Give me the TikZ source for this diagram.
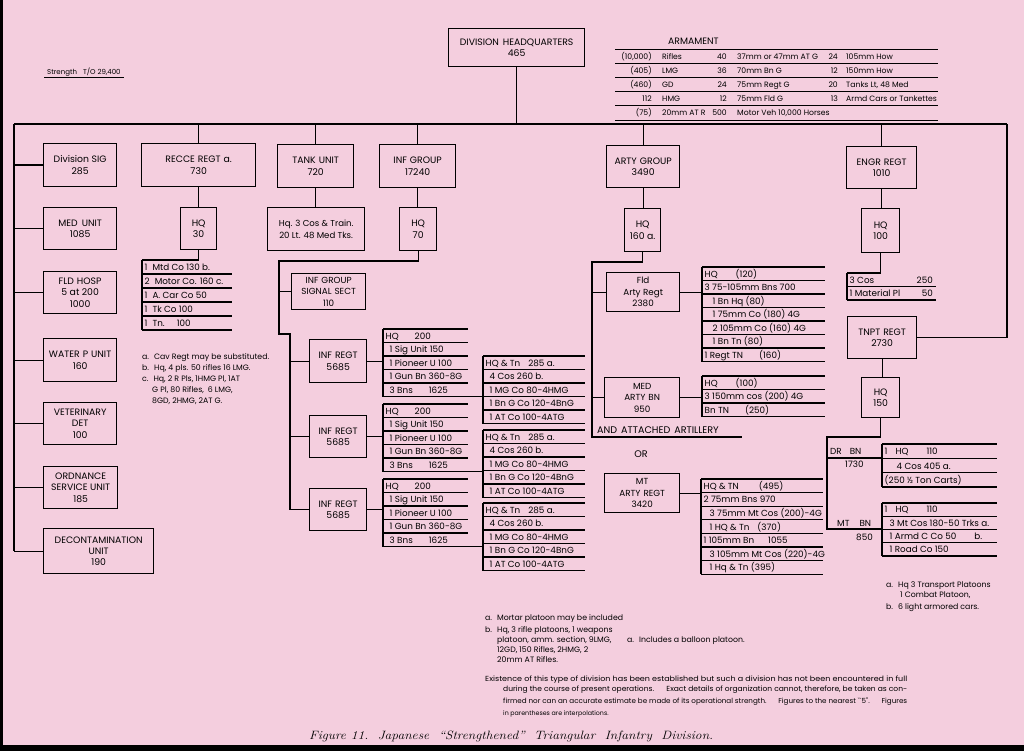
\documentclass[tikz,border=0pt]{standalone}
\usepackage{fontspec}
\usepackage{graphicx}
\newfontfamily\lsans{Poppins}
\definecolor{bgpink}{RGB}{244,206,222}
\tikzset{
  ln/.style={line width=1.3pt, line join=miter},
  box/.style={draw, line width=1.3pt, align=center, inner sep=0pt, anchor=north west,
    font=\lsans\fontsize{9.3}{11.4}\selectfont},
  tt/.style={font=\lsans\fontsize{8.8}{9}\selectfont, inner sep=0pt, anchor=base west},
  armtext/.style={font=\lsans\fontsize{7.7}{9}\selectfont, inner sep=0pt, anchor=base west},
  fn/.style={font=\lsans\fontsize{7.8}{8}\selectfont, inner sep=0pt, anchor=base west},
  pa/.style={font=\lsans\fontsize{6.3}{7}\selectfont, inner sep=0pt, anchor=base west},
}
\newcommand\fitline[2]{\resizebox{#1}{5.6pt}{#2}}
% #1 name, #2 x1, #3 y1, #4 x2, #5 y2, #6 text
\newcommand\ubox[6]{\node[box, minimum width={#4-#2}, minimum height={#5-#3}] (#1) at (#2,#3) {#6};}
% #1 name #2 x #3 ytop #4 width #5 toplen #6 rowh #7 nrows #8 list
\newcommand\rtab[8]{%
  \coordinate (#1) at (#2,#3);
  \coordinate (#1br) at ({#2+#4},{#3+#6*#7});
  \draw[ln] (#2,#3) -- ++(#5,0);
  \draw[ln] (#2,#3) -- ++(0,{#6*#7});
  \foreach \rowtext [count=\k] in {#8} {
    \draw[ln] (#2,{#3+\k*#6}) -- ++(#4,0);
    \node[tt] (#1r\k) at ({#2+2.5},{#3+\k*#6-3.4}) {\rowtext};
  }
}
\begin{document}
\begin{tikzpicture}[x=1pt,y=-1pt]
\useasboundingbox (0,0) rectangle (1024,751);
\fill[bgpink] (0,0) rectangle (1024,751);
\fill[black] (0,0) rectangle (3,751);
\fill[black] (0,745) rectangle (1024,751);

% ---------- headquarters and strength
\ubox{hq}{448}{28}{584}{66}{DIVISION\hspace{4pt}HEADQUARTERS\\465}
\node[fn, font=\lsans\fontsize{7}{8}\selectfont] (str) at (47,75) {Strength\hspace{6pt}T/O 29,400};
\draw[line width=0.8pt] ([yshift=-2.5pt,xshift=-3pt]str.base west) -- ([yshift=-2.5pt,xshift=3pt]str.base east);

% ---------- armament
\node[armtext, font=\lsans\fontsize{9.3}{9}\selectfont] (armt) at (668,45) {ARMAMENT};
\foreach \y in {50,64,78,92,106,121} \draw[line width=1pt] (615,\y) -- (938,\y);
\foreach \a/\b/\c/\d/\e/\f [count=\k] in {
  {(10,000)}/Rifles/40/{37mm or 47mm AT G}/24/{105mm How},
  {(405)}/LMG/36/{70mm Bn G}/12/{150mm How},
  {(460)}/GD/24/{75mm Regt G}/20/{Tanks Lt, 48 Med},
  {112}/HMG/12/{75mm Fld G}/13/{Armd Cars or Tankettes},
  {(75)}/{20mm AT R}/500/{Motor Veh 10,000 Horses}/{}/{}} {
  \pgfmathsetmacro\yy{46+\k*14}
  \node[armtext, anchor=base east] (ara\k) at (652,\yy) {\a};
  \node[armtext] (arb\k) at (662,\yy) {\b};
  \node[armtext, anchor=base east] (arc\k) at (727,\yy) {\c};
  \node[armtext] (ard\k) at (737,\yy) {\d};
  \node[armtext, anchor=base east] (are\k) at (838,\yy) {\e};
  \node[armtext] (arf\k) at (846,\yy) {\f};
}

% ---------- bus
\coordinate (busL) at (14,124);
\coordinate (busR) at (1007,124);
\draw[ln] (busL) -- (busR);
\draw[ln] (hq.south) -- (hq.south |- busL);

% ---------- left column
\ubox{sig}{43}{143}{116}{186}{Division SIG\\285}
\ubox{med}{43}{207}{116}{249}{MED\hspace{4pt}UNIT\\1085}
\ubox{hosp}{43}{271}{116}{313}{FLD\hspace{3pt}HOSP\\5 at 200\\1000}
\ubox{water}{43}{338}{116}{381}{WATER\hspace{3pt}P\hspace{3pt}UNIT\\160}
\ubox{vet}{43}{402}{116}{444}{VETERINARY\\DET\\100}
\ubox{ord}{43}{466}{117}{508}{ORDNANCE\\SERVICE UNIT\\185}
\ubox{decon}{43}{528}{153}{573}{DECONTAMINATION\\UNIT\\190}
\draw[ln] (busL) -- (busL |- decon.west);
\foreach \n in {sig,med,hosp,water,vet,ord,decon} \draw[ln] (\n.west) -- (\n.west -| busL);

% ---------- recce
\ubox{recce}{141}{143}{255}{186}{RECCE\hspace{3pt}REGT\hspace{3pt}a.\\730}
\ubox{recchq}{180}{207}{216}{249}{HQ\\30}
\draw[ln] (recce.north) -- (recce.north |- busL);
\draw[ln] (recce.south) -- (recchq.north);
\rtab{rtr}{142}{260}{90}{0}{14}{5}{{1\hspace{5pt}Mtd Co 130 b.},{2\hspace{5pt}Motor Co. 160 c.},{1\hspace{5pt}A. Car Co 50},{1\hspace{5pt}Tk Co 100},{1\hspace{5pt}Tn.\hspace{12pt}100}}
\draw[ln] (recchq.south) |- (rtr);
\node[fn] (rfa) at (142,359) {a.\hspace{5pt}Cav Regt may be substituted.};
\node[fn] (rfb) at (142,370) {b.\hspace{5pt}Hq, 4 pls. 50 rifles 16 LMG.};
\node[fn] (rfc) at (142,381) {c.\hspace{5pt}Hq, 2 R Pls, 1HMG Pl, 1AT};
\node[fn] (rfc2) at (152,392) {G Pl, 80 Rifles,\hspace{4pt}6 LMG,};
\node[fn] (rfc3) at (152,403) {8GD, 2HMG, 2AT G.};

% ---------- tank
\ubox{tank}{277}{144}{353}{187}{TANK\hspace{3pt}UNIT\\720}
\ubox{tanksub}{267}{207}{364}{250}{\fontsize{8.6}{11.4}\selectfont Hq. 3 Cos \& Train.\\\fontsize{8.6}{11.4}\selectfont 20 Lt. 48 Med Tks.}
\draw[ln] (tank.north) -- (tank.north |- busL);
\draw[ln] (tank.south) -- (tank.south |- tanksub.north);

% ---------- infantry group
\ubox{infg}{379}{144}{455}{187}{INF\hspace{3pt}GROUP\\17240}
\ubox{infhq}{399}{207}{436}{250}{HQ\\70}
\draw[ln] (infg.north) -- (infg.north |- busL);
\draw[ln] (infg.south) -- (infg.south |- infhq.north);
\ubox{sigsect}{291}{273}{365}{309}{\fontsize{8.8}{10.6}\selectfont INF\hspace{3pt}GROUP\\\fontsize{8.8}{10.6}\selectfont SIGNAL\hspace{3pt}SECT\\\fontsize{8.8}{10.6}\selectfont 110}
\ubox{reg1}{309}{339}{366}{382}{INF\hspace{3pt}REGT\\5685}
\ubox{reg2}{309}{415}{366}{457}{INF\hspace{3pt}REGT\\5685}
\ubox{reg3}{309}{488}{366}{530}{INF\hspace{3pt}REGT\\5685}
\coordinate (ig1) at (279,261);
\coordinate (ig2) at (279,334);
\coordinate (ig3) at (290,334);
\draw[ln] (infhq.south) |- (ig1) -- (ig2) -- (ig3) -- (ig3 |- reg3.west) -- (reg3.west);
\draw[ln] (sigsect.west) -- (sigsect.west -| ig1);
\draw[ln] (reg1.west) -- (reg1.west -| ig3);
\draw[ln] (reg2.west) -- (reg2.west -| ig3);
\foreach \ii/\ta/\tb in {1/329/356, 2/404/430, 3/479/503} {
  \rtab{rt\ii}{383}{\ta}{85}{85}{13.5}{5}{{HQ\hspace{16pt}200},{\hspace{4pt}1 Sig Unit 150},{\hspace{4pt}1 Pioneer U 100},{\hspace{4pt}1 Gun Bn 360-8G},{\hspace{4pt}3 Bns\hspace{16pt}1625}}
  \rtab{bn\ii}{483}{\tb}{102}{102}{13.5}{5}{{HQ \& Tn\hspace{8pt}285 a.},{\hspace{4pt}4 Cos 260 b.},{\hspace{4pt}1 MG Co 80-4HMG},{\hspace{4pt}1 Bn G Co 120-4BnG},{\hspace{4pt}1 AT Co 100-4ATG}}
  \draw[ln] (reg\ii.east) -- (reg\ii.east -| rt\ii);
  \draw[ln] (rt\ii br) -- (rt\ii br -| bn\ii);
}
\node[fn] (ifa) at (485,620) {a.\hspace{5pt}Mortar platoon may be included};
\node[fn] (ifb) at (485,632) {b.\hspace{5pt}Hq, 3 rifle platoons, 1 weapons};
\node[fn] (ifb2) at (497,642) {platoon, amm. section, 9LMG,};
\node[fn] (afa) at (627,642) {a.\hspace{5pt}Includes a balloon platoon.};
\node[fn] (ifb3) at (497,652) {12GD, 150 Rifles, 2HMG, 2};
\node[fn] (ifb4) at (497,662) {20mm AT Rifles.};

% ---------- artillery group
\ubox{arty}{606}{145}{679}{187}{ARTY\hspace{3pt}GROUP\\3490}
\ubox{artyhq}{624}{208}{660}{251}{HQ\\160 a.}
\draw[ln] (arty.north) -- (arty.north |- busL);
\draw[ln] (arty.south) -- (arty.south |- artyhq.north);
\ubox{fld}{606}{272}{679}{311}{\fontsize{8.8}{10.6}\selectfont Fld\\\fontsize{8.8}{10.6}\selectfont Arty Regt\\\fontsize{8.8}{10.6}\selectfont 2380}
\ubox{medarty}{604}{377}{679}{417}{\fontsize{8.8}{10.6}\selectfont MED\\\fontsize{8.8}{10.6}\selectfont ARTY\hspace{3pt}BN\\\fontsize{8.8}{10.6}\selectfont 950}
\ubox{mtarty}{604}{473}{679}{512}{\fontsize{8.8}{10.6}\selectfont MT\\\fontsize{8.8}{10.6}\selectfont ARTY\hspace{3pt}REGT\\\fontsize{8.8}{10.6}\selectfont 3420}
\coordinate (a1) at (592,262);
\coordinate (a2) at (592,437);
\coordinate (a3) at (742,437);
\draw[ln] (artyhq.south) |- (a1) -- (a2) -- (a3);
\draw[ln] (fld.west) -- (fld.west -| a1);
\draw[ln] (medarty.west) -- (medarty.west -| a1);
\node[fn, font=\lsans\fontsize{9.6}{9}\selectfont] (att) at (597,433.5) {AND\hspace{4pt}ATTACHED\hspace{4pt}ARTILLERY};
\node[fn, font=\lsans\fontsize{9.6}{9}\selectfont, anchor=base] (or) at (641,457) {OR};
\rtab{ft}{702}{267}{123}{123}{13.5}{7}{{HQ\hspace{18pt}(120)},{3 75-105mm Bns 700},{\hspace{8pt}1 Bn Hq (80)},{\hspace{8pt}1 75mm Co (180) 4G},{\hspace{8pt}2 105mm Co (160) 4G},{\hspace{8pt}1 Bn Tn (80)},{1 Regt TN\hspace{16pt}(160)}}
\rtab{mt}{702}{376}{123}{123}{13.5}{3}{{HQ\hspace{18pt}(100)},{3 150mm cos (200) 4G},{Bn TN\hspace{16pt}(250)}}
\rtab{mrt}{701}{479}{122}{122}{13.6}{7}{{HQ \& TN\hspace{20pt}(495)},{2 75mm Bns 970},{\hspace{6pt}3 75mm Mt Cos (200)-4G},{\hspace{6pt}1 HQ \& Tn\hspace{8pt}(370)},{1 105mm Bn\hspace{14pt}1055},{\hspace{6pt}3 105mm Mt Cos (220)-4G},{\hspace{6pt}1 Hq \& Tn (395)}}
\draw[ln] (fld.east) -- (fld.east -| ft);
\draw[ln] (medarty.east) -- (medarty.east -| mt);
\draw[ln] (mtarty.east) -- (mtarty.east -| mrt);

% ---------- engineers and transport
\ubox{engr}{846}{146}{916}{188}{ENGR\hspace{3pt}REGT\\1010}
\ubox{engrhq}{861}{208}{899}{252}{HQ\\100}
\draw[ln] (engr.north) -- (engr.north |- busL);
\draw[ln] (engr.south) -- (engr.south |- engrhq.north);
\rtab{et}{847}{273}{89}{0}{13.5}{2}{{3 Cos},{1 Material Pl}}
\draw[ln] (engrhq.south) |- (et);
\node[tt, anchor=base east] (etn1) at (933,283.1) {250};
\node[tt, anchor=base east] (etn2) at (933,296.6) {50};
\ubox{tnpt}{847}{316}{916}{358}{TNPT\hspace{3pt}REGT\\2730}
\ubox{tnpthq}{861}{377}{899}{417}{HQ\\150}
\draw[ln] (tnpt.east) -| (busR);
\draw[ln] (tnpt.south) -- (tnpt.south |- tnpthq.north);
\coordinate (d1) at (827,437);
\coordinate (d2) at (827,529);
\coordinate (d4) at (827,458);
\rtab{drt}{882}{444}{115}{115}{14.3}{3}{{1\hspace{8pt}HQ\hspace{18pt}110},{\hspace{12pt}4 Cos 405 a.},{(250 ½ Ton Carts)}}
\rtab{mbt}{882}{503}{115}{115}{13.25}{4}{{1\hspace{8pt}HQ\hspace{18pt}110},{\hspace{5pt}3 Mt Cos 180-50 Trks a.},{\hspace{5pt}1 Armd C Co 50\hspace{18pt}b.},{\hspace{5pt}1 Road Co 150}}
\draw[ln] (tnpthq.south) |- (d1) -- (d2) -- (d2 -| mbt);
\draw[ln] (d4) -- (d4 -| drt);
\node[tt] (drbn) at (830,454) {DR\hspace{8pt}BN};
\node[tt] (drn) at (845,467.5) {1730};
\node[tt] (mtbn) at (837,526) {MT\hspace{10pt}BN};
\node[tt] (mtn) at (856,540) {850};
\node[fn] (tfa) at (886,587) {a.\hspace{5pt}Hq 3 Transport Platoons};
\node[fn] (tfa2) at (900,597) {1 Combat Platoon,};
\node[fn] (tfb) at (886,609) {b.\hspace{5pt}6 light armored cars.};

% ---------- paragraph and caption
\node[pa] (p1) at (485,681) {\fitline{422pt}{Existence of this type of division has been established but such a division has not been encountered in full}};
\node[pa] (p2) at (503,691) {\fitline{404pt}{during the course of present operations.\hspace{8pt} Exact details of organization cannot, therefore, be taken as con-}};
\node[pa] (p3) at (503,703) {\fitline{404pt}{firmed nor can an accurate estimate be made of its operational strength.\hspace{8pt} Figures to the nearest ``5''.\hspace{8pt} Figures}};
\node[pa] (p4) at (503,715) {in parentheses are interpolations.};
\node[inner sep=0pt, anchor=base west] (cap) at (309,739) {\resizebox{404pt}{8.5pt}{\fontsize{12}{14}\selectfont\itshape\addfontfeatures{LetterSpace=8}Figure 11.\ \ Japanese\ \ ``Strengthened''\ \ Triangular\ \ Infantry\ \ Division.}};
\end{tikzpicture}
\end{document}
